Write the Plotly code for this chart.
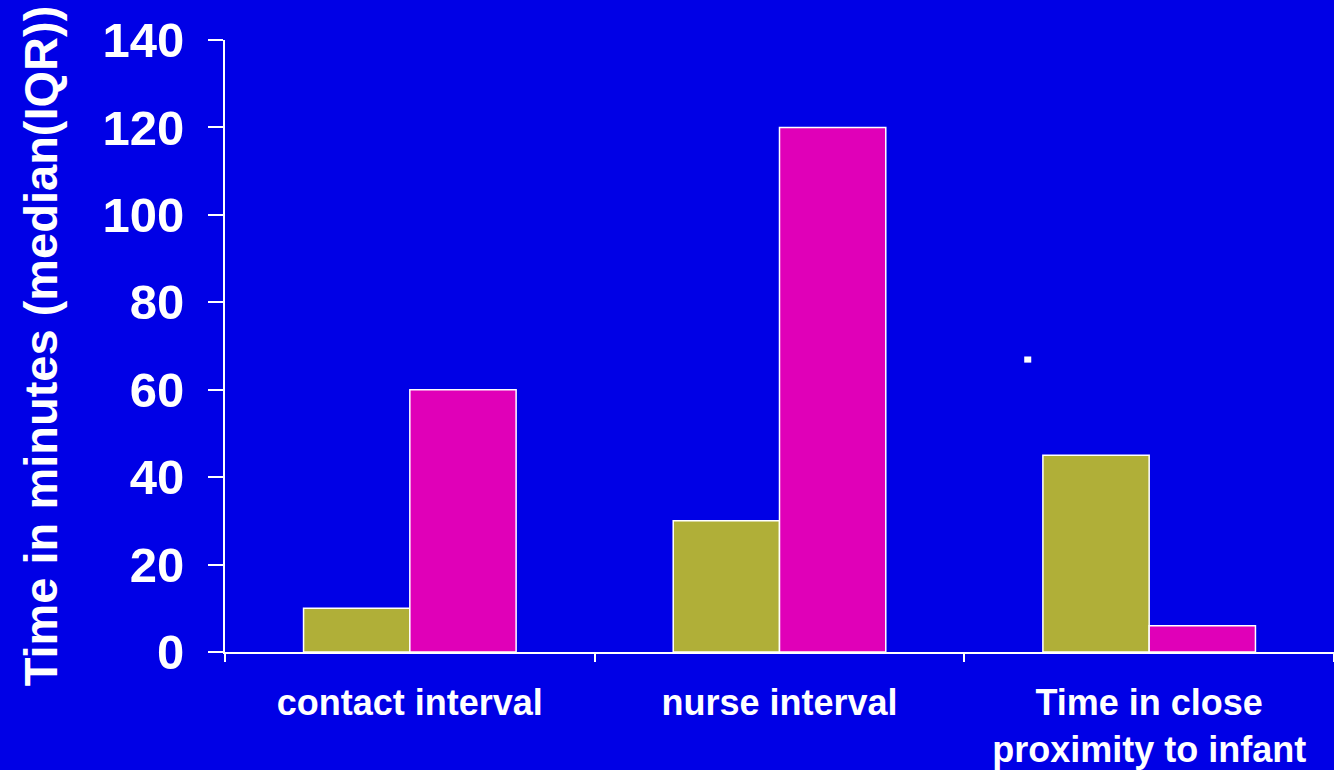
import plotly.graph_objects as go

categories = ["contact interval", "nurse interval", "Time in close<br>proximity to infant"]
series_a = [10, 30, 45]
series_b = [60, 120, 6]
y_ticks = [0, 20, 40, 60, 80, 100, 120, 140]

BG = "#0000E6"
FONT = "Liberation Sans, Arial, sans-serif"

fig = go.Figure()
fig.add_trace(go.Bar(x=categories, y=series_a, marker=dict(color="#B0AF38", line=dict(color="white", width=1.5)), name="A"))
fig.add_trace(go.Bar(x=categories, y=series_b, marker=dict(color="#E000B8", line=dict(color="white", width=1.5)), name="B"))

fig.add_shape(type="rect", xref="x", yref="y", x0=1.662, x1=1.681, y0=66.2, y1=67.6,
              fillcolor="white", line=dict(width=0))

fig.update_layout(
    width=1334, height=770,
    paper_bgcolor=BG, plot_bgcolor=BG,
    margin=dict(l=225, r=0, t=40, b=118),
    barmode="group", bargap=0.425, bargroupgap=0,
    showlegend=False,
    font=dict(family=FONT, color="white", weight="bold"),
)
fig.update_xaxes(
    range=[-0.5, 2.5], showgrid=False, zeroline=False, automargin=False,
    showline=True, linecolor="white", linewidth=2,
    ticks="outside", tickson="boundaries", ticklen=8, tickcolor="white", tickwidth=2,
    tickfont=dict(family=FONT, size=36, color="white", weight="bold"),
    ticklabelstandoff=18,
)
fig.update_yaxes(
    range=[0, 140], tickvals=y_ticks, showgrid=False, zeroline=False, automargin=False,
    showline=True, linecolor="white", linewidth=2,
    ticks="outside", ticklen=15, tickcolor="white", tickwidth=2,
    tickfont=dict(family=FONT, size=49, color="white", weight="bold"),
    ticklabelstandoff=14,
    title=dict(text="Time in minutes (median(IQR))", font=dict(family=FONT, size=47, color="white", weight="bold"), standoff=30),
)
fig.write_html("out.html", config={"displayModeBar": False},
               post_script="document.body.style.margin='0';document.body.style.background='#0000E6';")
